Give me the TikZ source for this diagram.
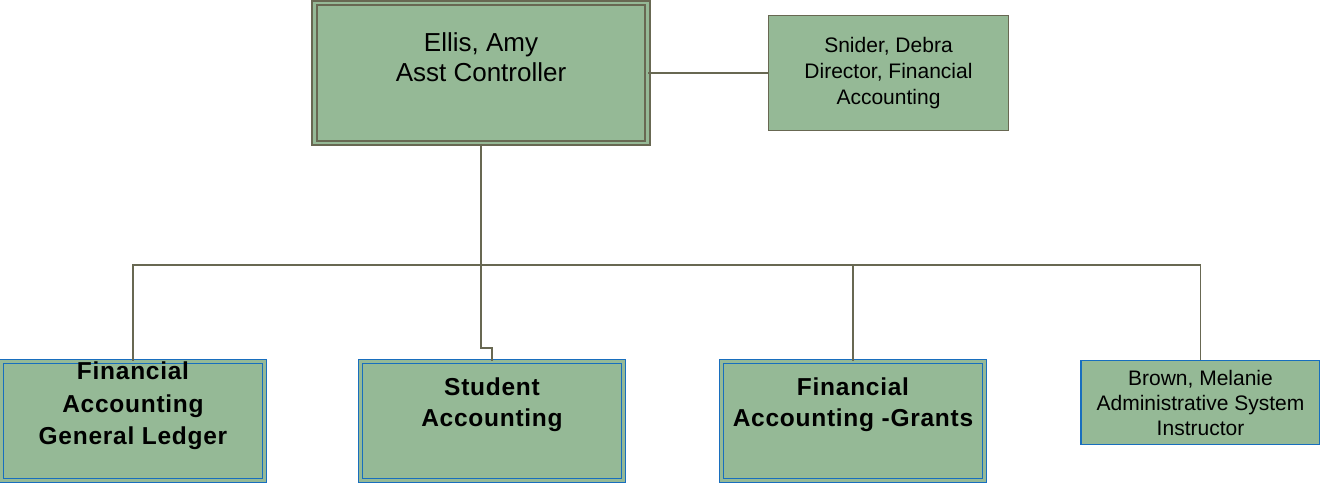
\documentclass[tikz,border=0pt]{standalone}
\usepackage{fontspec}
\setmainfont{Liberation Sans}
\definecolor{boxfill}{RGB}{149,185,150}
\definecolor{olive}{RGB}{104,104,82}
\definecolor{bluebd}{RGB}{24,110,190}
\begin{document}
\begin{tikzpicture}[x=1pt,y=-1pt,
  conn/.style={draw=olive,line width=1.3pt},
  box/.style={fill=boxfill,draw=olive,line width=1.5pt},
  dblolive/.style={fill=boxfill,draw=olive,line width=1.8pt,double=boxfill,double distance=2.5pt},
  dblblue/.style={fill=boxfill,draw=bluebd,line width=1.4pt,double=boxfill,double distance=2.5pt},
  bluebox/.style={fill=boxfill,draw=bluebd,line width=1.5pt},
  txt/.style={align=center,inner sep=0pt}]
\useasboundingbox (0,0) rectangle (1320,482);
\node[dblolive,minimum width=333pt,minimum height=140pt] (ellis) at (481,73) {};
\node[box,minimum width=240pt,minimum height=115pt] (snider) at (888.5,73) {};
\node[dblblue,minimum width=263pt,minimum height=119pt] (fagl) at (133,421) {};
\node[dblblue,minimum width=263pt,minimum height=119pt] (stud) at (492,421) {};
\node[dblblue,minimum width=263pt,minimum height=119pt] (grants) at (853,421) {};
\node[bluebox,minimum width=239pt,minimum height=84pt] (brown) at (1200.5,402.5) {};
% texts
\node[txt,font=\fontsize{26}{30}\selectfont] (tellis) at (481,57) {Ellis, Amy\\Asst Controller};
\node[txt,font=\fontsize{21}{26}\selectfont] (tsnider) at (888.5,73.5) {Snider, Debra\\Director, Financial\\Accounting};
\node[txt,font=\fontsize{24.5}{32.5}\selectfont\bfseries\addfontfeatures{LetterSpace=3}] (tfagl) at (133,406) {Financial\\Accounting\\General Ledger};
\node[txt,font=\fontsize{24.5}{31}\selectfont\bfseries\addfontfeatures{LetterSpace=3}] (tstud) at (492,405) {Student\\Accounting};
\node[txt,font=\fontsize{24.5}{31}\selectfont\bfseries\addfontfeatures{LetterSpace=3}] (tgrants) at (853,405) {Financial\\Accounting -Grants};
\node[txt,font=\fontsize{21}{25}\selectfont] (tbrown) at (1200.5,403) {Brown, Melanie\\Administrative System\\Instructor};
% connectors
\coordinate (bus) at (481,265);
\draw[conn] (ellis.east) -- (snider.west);
\draw[conn] (ellis.south) -- (bus);
\draw[conn] (fagl.north) |- (bus) -| (brown.north);
\draw[conn] (bus) -| (grants.north);
\draw[conn] (bus) -- (481,348) -| (stud.north);
\end{tikzpicture}
\end{document}
